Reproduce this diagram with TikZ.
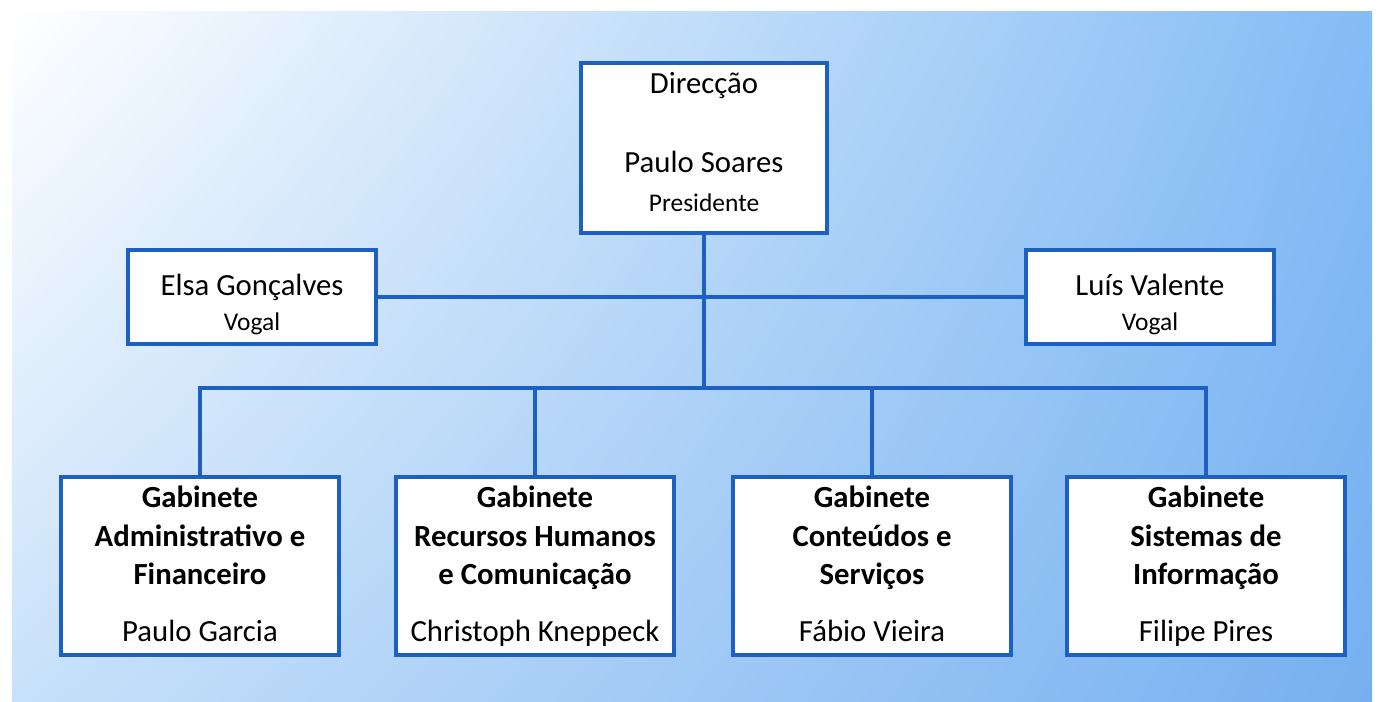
\documentclass[tikz,border=0pt]{standalone}
\usepackage{fontspec}
\setmainfont{Carlito}
\usetikzlibrary{shadings}
\definecolor{linha}{RGB}{28,96,196}
\definecolor{fundoA}{RGB}{132,188,245}
\definecolor{fundoB}{RGB}{118,176,240}
\definecolor{fundoC}{RGB}{200,225,250}
\newcommand{\grande}{\fontsize{17.5}{22}\selectfont}
\newcommand{\pequeno}{\fontsize{14.5}{18}\selectfont}

\begin{document}
\begin{tikzpicture}[x=0.02cm, y=-0.02cm, line width=0.08cm,
        caixa/.style = {draw=linha, fill=white, align=center, inner sep=0pt, font=\grande},
        topo/.style = {caixa, minimum width=4.94cm, minimum height=3.4cm},
        vogal/.style = {caixa, minimum width=4.96cm, minimum height=1.9cm},
        gab/.style = {caixa, minimum width=5.58cm, minimum height=3.56cm},
        liga/.style = {draw=linha}]
        \useasboundingbox (0,0) rectangle (1379,702);
        % fundo
        \fill[white] (0,0) rectangle (1379,702);
        \shade[upper left=white, upper right=fundoA, lower left=fundoC, lower right=fundoB]
            (12,12) rectangle (1372,702);
        % caixas
        \node[topo] (dir) at (704,148) {Direcção\\[23pt]Paulo Soares\\{\pequeno Presidente}\\[-15pt]\mbox{}};
        \node[vogal] (elsa) at (252,297) {\rule{0pt}{21pt}Elsa Gonçalves\\[-2pt]{\pequeno Vogal}};
        \node[vogal] (luis) at (1150,297) {\rule{0pt}{21pt}Luís Valente\\[-2pt]{\pequeno Vogal}};
        \node[gab] (adm) at (200,566) {\textbf{Gabinete}\\\textbf{Administrativo e}\\\textbf{Financeiro}\\[10pt]Paulo Garcia\vphantom{p}};
        \node[gab] (rh)  at (535,566) {\textbf{Gabinete}\\\textbf{Recursos Humanos}\\\textbf{e Comunicação}\\[10pt]Christoph Kneppeck};
        \node[gab] (cs)  at (872,566) {\textbf{Gabinete}\\\textbf{Conteúdos e}\\\textbf{Serviços}\\[10pt]Fábio Vieira\vphantom{p}};
        \node[gab] (si)  at (1206,566) {\textbf{Gabinete}\\\textbf{Sistemas de}\\\textbf{Informação}\\[10pt]Filipe Pires};
        \coordinate (bus) at (704,388);
        % ligacoes
        \draw[liga] (elsa) -- (luis);
        \draw[liga] (dir) -- (bus);
        \draw[liga] (adm) |- (bus) -| (si);
        \draw[liga] (rh) -- (rh |- bus);
        \draw[liga] (cs) -- (cs |- bus);
\end{tikzpicture}
\end{document}
